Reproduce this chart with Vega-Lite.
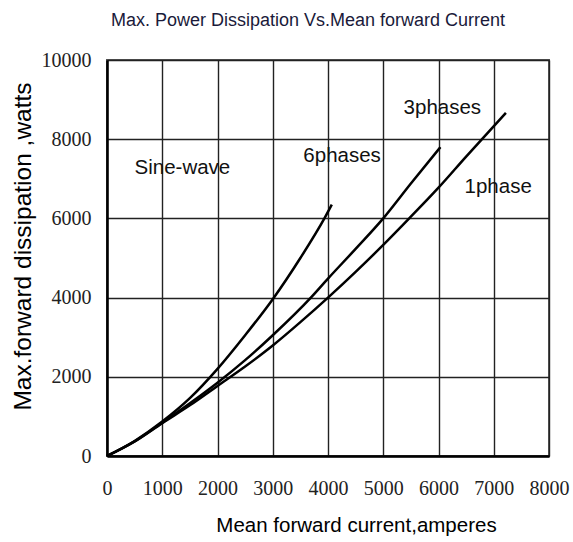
{
  "$schema": "https://vega.github.io/schema/vega-lite/v6.json",
  "width": 442,
  "height": 396,
  "autosize": "none",
  "padding": {"left": 107, "top": 60, "right": 24, "bottom": 86},
  "background": "white",
  "title": {
    "text": "Max. Power Dissipation Vs.Mean forward Current",
    "font": "Liberation Sans",
    "fontSize": 18,
    "fontWeight": "normal",
    "color": "#1a1a3a",
    "anchor": "middle",
    "dx": -20,
    "offset": 20
  },
  "config": {
    "view": {"stroke": "#555", "strokeWidth": 2},
    "axis": {"grid": true, "gridColor": "#222", "gridWidth": 1.4, "gridOpacity": 1, "ticks": false, "domainColor": "#000", "domainWidth": 2.5, "labelFont": "Liberation Serif", "labelFontSize": 20, "labelColor": "#222", "titleFont": "Liberation Sans", "titleFontSize": 20.5, "titleFontWeight": "normal", "titleColor": "#000"}
  },
  "datasets": {
    "curves": [
      {"series": "6phases", "current": 0, "power": 0},
      {"series": "6phases", "current": 500, "power": 380},
      {"series": "6phases", "current": 1000, "power": 870},
      {"series": "6phases", "current": 1500, "power": 1460},
      {"series": "6phases", "current": 2000, "power": 2200},
      {"series": "6phases", "current": 2500, "power": 3050},
      {"series": "6phases", "current": 3000, "power": 3960},
      {"series": "6phases", "current": 3500, "power": 5000},
      {"series": "6phases", "current": 3935, "power": 6000},
      {"series": "6phases", "current": 4070, "power": 6350},
      {"series": "3phases", "current": 0, "power": 0},
      {"series": "3phases", "current": 500, "power": 370},
      {"series": "3phases", "current": 1000, "power": 840},
      {"series": "3phases", "current": 1500, "power": 1330},
      {"series": "3phases", "current": 2000, "power": 1850},
      {"series": "3phases", "current": 2500, "power": 2420},
      {"series": "3phases", "current": 3000, "power": 3050},
      {"series": "3phases", "current": 3690, "power": 4000},
      {"series": "3phases", "current": 4000, "power": 4480},
      {"series": "3phases", "current": 4500, "power": 5230},
      {"series": "3phases", "current": 5000, "power": 6000},
      {"series": "3phases", "current": 5500, "power": 6880},
      {"series": "3phases", "current": 6035, "power": 7800},
      {"series": "1phase", "current": 0, "power": 0},
      {"series": "1phase", "current": 500, "power": 365},
      {"series": "1phase", "current": 1000, "power": 830},
      {"series": "1phase", "current": 1500, "power": 1280},
      {"series": "1phase", "current": 2000, "power": 1770},
      {"series": "1phase", "current": 2500, "power": 2260},
      {"series": "1phase", "current": 3000, "power": 2790},
      {"series": "1phase", "current": 3500, "power": 3380},
      {"series": "1phase", "current": 4000, "power": 4000},
      {"series": "1phase", "current": 4500, "power": 4650},
      {"series": "1phase", "current": 5000, "power": 5330},
      {"series": "1phase", "current": 5470, "power": 6000},
      {"series": "1phase", "current": 6000, "power": 6775},
      {"series": "1phase", "current": 6500, "power": 7560},
      {"series": "1phase", "current": 7220, "power": 8665}
    ],
    "labels": [
      {"label": "Sine-wave", "current": 1365, "power": 7270},
      {"label": "6phases", "current": 4255, "power": 7575},
      {"label": "3phases", "current": 6070, "power": 8790},
      {"label": "1phase", "current": 7080, "power": 6790}
    ]
  },
  "layer": [
    {
      "data": {"name": "curves"},
      "mark": {"type": "line", "color": "#000", "strokeWidth": 2.5, "interpolate": "monotone"},
      "encoding": {
        "x": {"field": "current", "type": "quantitative", "scale": {"domain": [0, 8000], "nice": false},
          "axis": {"values": [0, 1000, 2000, 3000, 4000, 5000, 6000, 7000, 8000], "format": "d", "labelPadding": 22, "labelFlush": false,
            "title": "Mean forward current,amperes", "titleX": 249, "titleY": 75, "titleBaseline": "alphabetic"}},
        "y": {"field": "power", "type": "quantitative", "scale": {"domain": [0, 10000], "nice": false},
          "axis": {"values": [0, 2000, 4000, 6000, 8000, 10000], "format": "d", "labelPadding": 16, "labelFlush": false,
            "title": "Max.forward dissipation ,watts", "titleFontSize": 24.5, "titleX": -84, "titleY": 186, "titleAngle": -90, "titleBaseline": "middle", "titleAlign": "center"}},
        "detail": {"field": "series"}
      }
    },
    {
      "data": {"name": "labels"},
      "mark": {"type": "text", "font": "Liberation Sans", "fontSize": 20.5, "color": "#111", "align": "center", "baseline": "middle"},
      "encoding": {
        "x": {"field": "current", "type": "quantitative"},
        "y": {"field": "power", "type": "quantitative"},
        "text": {"field": "label"}
      }
    }
  ]
}
